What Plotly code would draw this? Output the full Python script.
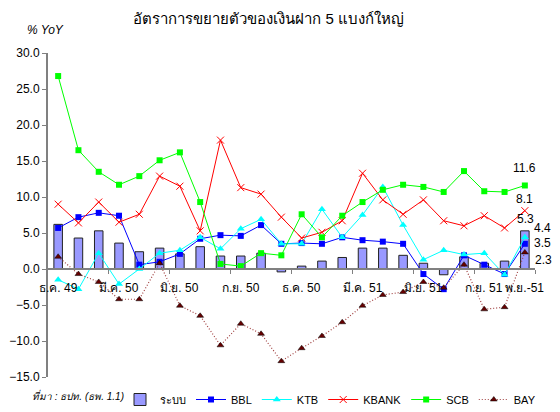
import plotly.graph_objects as go

months = ["ธ.ค. 49", "ม.ค. 50", "ก.พ. 50", "มี.ค. 50", "เม.ย. 50", "พ.ค. 50", "มิ.ย. 50",
          "ก.ค. 50", "ส.ค. 50", "ก.ย. 50", "ต.ค. 50", "พ.ย. 50", "ธ.ค. 50", "ม.ค. 51",
          "ก.พ. 51", "มี.ค. 51", "เม.ย. 51", "พ.ค. 51", "มิ.ย. 51", "ก.ค. 51", "ส.ค. 51",
          "ก.ย. 51", "ต.ค. 51", "พ.ย.-51"]
tick_idx = [0, 3, 6, 9, 12, 15, 18, 21, 23]

system = [6.2, 4.3, 5.3, 3.6, 2.4, 2.9, 2.1, 3.1, 1.8, 1.8, 2.2, -0.4, 0.4, 1.1,
          1.6, 2.9, 2.9, 1.9, 0.8, -0.8, 1.7, 0.8, 1.1, 5.3]
bbl = [5.7, 7.2, 7.8, 7.4, 0.6, 1.0, 2.1, 4.2, 4.7, 4.6, 6.1, 3.5, 3.6, 3.5,
       4.4, 4.0, 3.8, 3.5, -0.7, -2.8, 1.9, 0.6, -0.7, 3.5]
ktb = [-1.5, -2.8, 2.2, -2.1, 0.0, 2.2, 2.6, 4.4, 2.8, 5.6, 6.9, 3.5, 3.5, 8.3,
       4.4, 7.5, 11.4, 6.1, 1.3, 2.6, 2.0, 2.2, -0.8, 4.4]
kbank = [9.0, 6.4, 9.3, 6.5, 7.6, 12.9, 11.5, 5.3, 17.9, 11.3, 10.4, 7.2, 4.3, 5.1,
         6.7, 13.3, 9.6, 7.6, 9.6, 6.7, 6.0, 7.4, 5.7, 8.1]
scb = [26.8, 16.5, 13.5, 11.7, 12.9, 15.1, 16.2, 9.3, 0.7, 0.4, 2.2, 1.9, 7.6, 4.4,
       7.4, 9.3, 11.0, 11.7, 11.4, 10.7, 13.6, 10.8, 10.7, 11.6]
bay = [1.7, -0.7, -1.8, -4.2, -4.2, 0.8, -5.1, -6.5, -10.6, -7.6, -9.0, -12.8, -11.0, -9.3,
       -7.4, -5.1, -3.6, -3.2, -1.8, -2.6, 0.6, -5.6, -5.3, 2.3]

x = list(range(len(months)))
FONT = "Liberation Sans, Arial, sans-serif"

fig = go.Figure()
fig.add_trace(go.Bar(x=x, y=system, name="ระบบ",
                     marker=dict(color="#9999FF", line=dict(color="#222222", width=1))))
fig.add_trace(go.Scatter(x=x, y=bbl, name="BBL", mode="lines+markers",
                         line=dict(color="#0000FF", width=1),
                         marker=dict(symbol="square", size=6, color="#0000FF")))
fig.add_trace(go.Scatter(x=x, y=ktb, name="KTB", mode="lines+markers",
                         line=dict(color="#00FFFF", width=1),
                         marker=dict(symbol="triangle-up", size=7, color="#00FFFF")))
fig.add_trace(go.Scatter(x=x, y=kbank, name="KBANK", mode="lines+markers",
                         line=dict(color="#FF0000", width=1),
                         marker=dict(symbol="x-thin", size=7, color="#FF0000",
                                     line=dict(color="#FF0000", width=1))))
fig.add_trace(go.Scatter(x=x, y=scb, name="SCB", mode="lines+markers",
                         line=dict(color="#00FF00", width=1),
                         marker=dict(symbol="square", size=6, color="#00FF00")))
fig.add_trace(go.Scatter(x=x, y=bay, name="BAY", mode="lines+markers",
                         line=dict(color="#A04040", width=1.2, dash="1px,2px"),
                         marker=dict(symbol="triangle-up", size=6, color="#660000",
                                     line=dict(color="#000000", width=0.5))))

# x-axis category labels placed just below the zero line
for i in tick_idx:
    fig.add_annotation(x=i, y=0, text=months[i], showarrow=False, yshift=-19,
                       font=dict(size=12, color="#000000", family=FONT))

# end-of-series value labels
last = len(x) - 1
end_labels = [
    (scb[last], 0, 17),
    (kbank[last], 0, 12),
    (system[last], 1, 12),
    (ktb[last], 18, 9),
    (bbl[last], 18, 1),
    (bay[last], 19, -8),
]
for val, xs, ys in end_labels:
    fig.add_annotation(x=last, y=val, text=f"{val:.1f}", showarrow=False,
                       xshift=xs, yshift=ys, font=dict(size=12, color="#000000", family=FONT))

fig.add_annotation(xref="paper", yref="paper", x=-0.037, y=-0.056, xanchor="left",
                   yanchor="middle", text="<i>ที่มา : ธปท. (ธพ. 1.1)</i>", showarrow=False,
                   font=dict(size=10, color="#000000", family=FONT))
fig.add_annotation(xref="paper", yref="paper", x=-0.048, y=1.07, xanchor="left",
                   yanchor="middle", text="<i>% YoY</i>", showarrow=False,
                   font=dict(size=12, color="#000000", family=FONT))

fig.update_layout(
    width=560, height=412,
    margin=dict(l=48, r=25, t=53, b=35),
    paper_bgcolor="white", plot_bgcolor="white",
    bargap=0.58,
    title=dict(text="อัตราการขยายตัวของเงินฝาก 5 แบงก์ใหญ่", x=0.48, xanchor="center",
               y=0.955, yanchor="middle", font=dict(size=15, color="#000000", family=FONT)),
    font=dict(family=FONT, size=12, color="#000000"),
    showlegend=True,
    legend=dict(orientation="h", xref="container", yref="container",
                x=120 / 560, y=1 - 385 / 412, xanchor="left", yanchor="top",
                font=dict(size=11, family=FONT), itemwidth=30, tracegroupgap=0,
                bgcolor="rgba(0,0,0,0)"),
    xaxis=dict(range=[-0.5, 23.5], anchor="free", position=15 / 45, automargin=False,
               showline=True, linecolor="#808080", linewidth=2,
               showgrid=False, zeroline=False, showticklabels=False,
               tickmode="array", tickvals=tick_idx, ticks="",
               minor=dict(tickmode="array", tickvals=[2.5, 5.5, 8.5, 11.5, 14.5, 17.5, 20.5, 23.5],
                          ticks="outside", ticklen=4, tickcolor="#808080", tickwidth=1)),
    yaxis=dict(range=[-15, 30], dtick=5, tickformat=".1f", domain=[0, 1], automargin=False,
               showline=True, linecolor="#808080", linewidth=2,
               ticks="outside", ticklen=4, tickcolor="#808080",
               showgrid=False, zeroline=False, tickfont=dict(size=12)),
)

fig.write_html("out.html", config={"displayModeBar": False},
               post_script="document.body.style.margin='0';document.body.style.overflow='hidden';")
